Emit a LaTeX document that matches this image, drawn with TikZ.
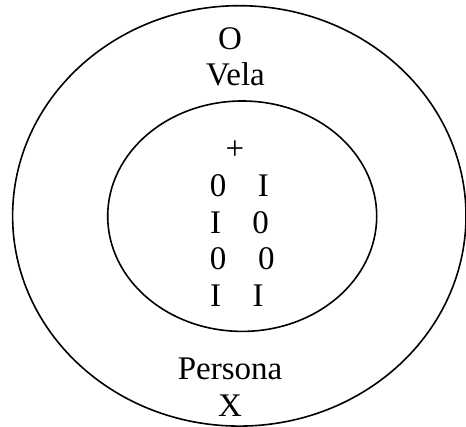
\documentclass[tikz,border=0pt]{standalone}
\usepackage{fontspec}
\setmainfont{Liberation Serif}
\begin{document}
\begin{tikzpicture}[x=1pt,y=-1pt,
  ring/.style={line width=1.6pt},
  lbl/.style={inner sep=0pt,anchor=base,font=\fontsize{33}{39}\selectfont}]
\useasboundingbox (0,0) rectangle (466,427);
\draw[ring] (239.3,215.9) ellipse [x radius=226.7, y radius=210.2];
\draw[ring] (242.2,216.2) ellipse [x radius=134.5, y radius=115.2];
\node[lbl] (o) at (230,49.3) {O};
\node[lbl] (vela) at (235.5,86) {Vela};
\node[lbl] (plus) at (235,159.7) {+};
\node[lbl] (r1a) at (218,196.7) {0};
\node[lbl] (r1b) at (263.3,196.7) {I};
\node[lbl] (r2a) at (215.7,233.3) {I};
\node[lbl] (r2b) at (260.7,233.3) {0};
\node[lbl] (r3a) at (218,269.3) {0};
\node[lbl] (r3b) at (266.3,269.3) {0};
\node[lbl] (r4a) at (215.7,306.7) {I};
\node[lbl] (r4b) at (258,306.7) {I};
\node[lbl] (persona) at (230,380) {Persona};
\node[lbl] (x) at (230,416.7) {X};
\end{tikzpicture}
\end{document}
